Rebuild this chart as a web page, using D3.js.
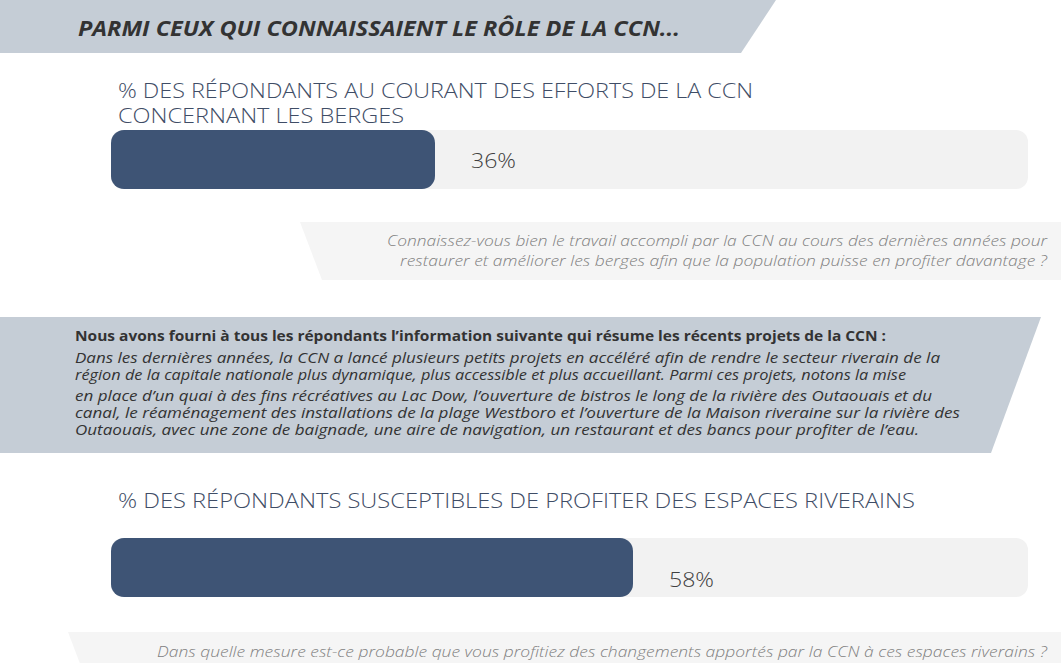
<!DOCTYPE html>
<html>
<head>
<meta charset="utf-8">
<script src="https://cdn.jsdelivr.net/npm/d3@7"></script>
<style>
  body { margin: 0; background: #fff; }
  svg { display: block; }
</style>
</head>
<body>
<script>
// data
let header_text = "PARMI CEUX QUI CONNAISSAIENT LE RÔLE DE LA CCN...";
let bar_titles = [
    ["% DES RÉPONDANTS AU COURANT DES EFFORTS DE LA CCN", "CONCERNANT LES BERGES"],
    ["% DES RÉPONDANTS SUSCEPTIBLES DE PROFITER DES ESPACES RIVERAINS"]
];
let bar_values = [36, 58];
let questions = [
    ["Connaissez-vous bien le travail accompli par la CCN au cours des dernières années pour",
     "restaurer et améliorer les berges afin que la population puisse en profiter davantage ?"],
    ["Dans quelle mesure est-ce probable que vous profitiez des changements apportés par la CCN à ces espaces riverains ?"]
];
let info_lead = "Nous avons fourni à tous les répondants l’information suivante qui résume les récents projets de la CCN :";
let info_lines = [
    "Dans les dernières années, la CCN a lancé plusieurs petits projets en accéléré afin de rendre le secteur riverain de la",
    "région de la capitale nationale plus dynamique, plus accessible et plus accueillant. Parmi ces projets, notons la mise",
    "en place d’un quai à des fins récréatives au Lac Dow, l’ouverture de bistros le long de la rivière des Outaouais et du",
    "canal, le réaménagement des installations de la plage Westboro et l’ouverture de la Maison riveraine sur la rivière des",
    "Outaouais, avec une zone de baignade, une aire de navigation, un restaurant et des bancs pour profiter de l’eau."
];

// colors
let color_band = "#c5cdd6";
let color_bar = "#3e5475";
let color_track = "#f2f2f2";
let color_qbox = "#f5f5f5";
let color_title = "#3f4d66";
let color_dark = "#333333";
let color_question = "#808080";

let width = 1061;
let height = 663;

// layout
let bar_top = [130, 538];
let bar_h = 59;
let label_dy = [8, 19];
let title_base = [[98, 123], [508]];
let title_len = [[635, 286], [797]];
let q_base = [[246, 266], [657]];
let q_len = [[660, 647], [890]];
let info_base = [363, 380, 401, 418, 435];
let info_len = [865, 831, 857, 885, 844];

let font = "'Open Sans', 'Noto Sans', sans-serif";

let svg = d3.select("body").append("svg")
            .attr("width", width)
            .attr("height", height);

let x = d3.scaleLinear().domain([0, 100]).range([111, 1011]);

function fit(text, len) {
    text.attr("textLength", len).attr("lengthAdjust", "spacingAndGlyphs");
}

// header band
svg.append("path")
   .attr("d", "M0,0 L776,0 L741,53 L0,53 Z")
   .attr("fill", color_band);
svg.append("text")
   .attr("x", 78).attr("y", 36)
   .attr("font-family", font)
   .attr("font-size", 21)
   .attr("font-weight", 700)
   .attr("font-style", "italic")
   .attr("fill", color_dark)
   .text(header_text)
   .call(fit, 602);

// question boxes
svg.append("path")
   .attr("d", "M300,222 L1061,222 L1061,280 L322,280 Z")
   .attr("fill", color_qbox);
svg.append("path")
   .attr("d", "M68,632 L1061,632 L1061,690 L90,690 Z")
   .attr("fill", color_qbox);

questions.forEach((lines, i) => {
    lines.forEach((line, j) => {
        svg.append("text")
           .attr("x", 1047).attr("y", q_base[i][j])
           .attr("text-anchor", "end")
           .attr("font-family", font)
           .attr("font-size", 15)
           .attr("font-weight", 300)
           .attr("font-style", "italic")
           .attr("fill", color_question)
           .text(line)
           .call(fit, q_len[i][j]);
    });
});

// info box
svg.append("path")
   .attr("d", "M0,317 L1041,317 L991,453 L0,453 Z")
   .attr("fill", color_band);
svg.append("text")
   .attr("x", 75).attr("y", 341)
   .attr("font-family", font)
   .attr("font-size", 13.5)
   .attr("font-weight", 700)
   .attr("fill", color_dark)
   .text(info_lead)
   .call(fit, 811);
info_lines.forEach((line, i) => {
    svg.append("text")
       .attr("x", 75).attr("y", info_base[i])
       .attr("font-family", font)
       .attr("font-size", 14)
       .attr("font-style", "italic")
       .attr("fill", color_dark)
       .text(line)
       .call(fit, info_len[i]);
});

// bar charts
bar_values.forEach((v, i) => {
    let g = svg.append("g");

    bar_titles[i].forEach((line, j) => {
        g.append("text")
         .attr("x", 118).attr("y", title_base[i][j])
         .attr("font-family", font)
         .attr("font-size", 20)
         .attr("font-weight", 300)
         .attr("fill", color_title)
         .text(line)
         .call(fit, title_len[i][j]);
    });

    g.append("rect")
     .attr("x", x(0)).attr("y", bar_top[i])
     .attr("width", 1028 - x(0)).attr("height", bar_h)
     .attr("rx", 12).attr("ry", 12)
     .attr("fill", color_track);

    g.append("rect")
     .attr("x", x(0)).attr("y", bar_top[i])
     .attr("width", x(v) - x(0)).attr("height", bar_h)
     .attr("rx", 13).attr("ry", 13)
     .attr("fill", color_bar);

    g.append("text")
     .attr("x", x(v) + 36).attr("y", bar_top[i] + bar_h / 2 + label_dy[i])
     .attr("font-family", font)
     .attr("font-size", 21)
     .attr("font-weight", 300)
     .attr("fill", "#404040")
     .text(v + "%")
     .call(fit, 45);
});
</script>
</body>
</html>
